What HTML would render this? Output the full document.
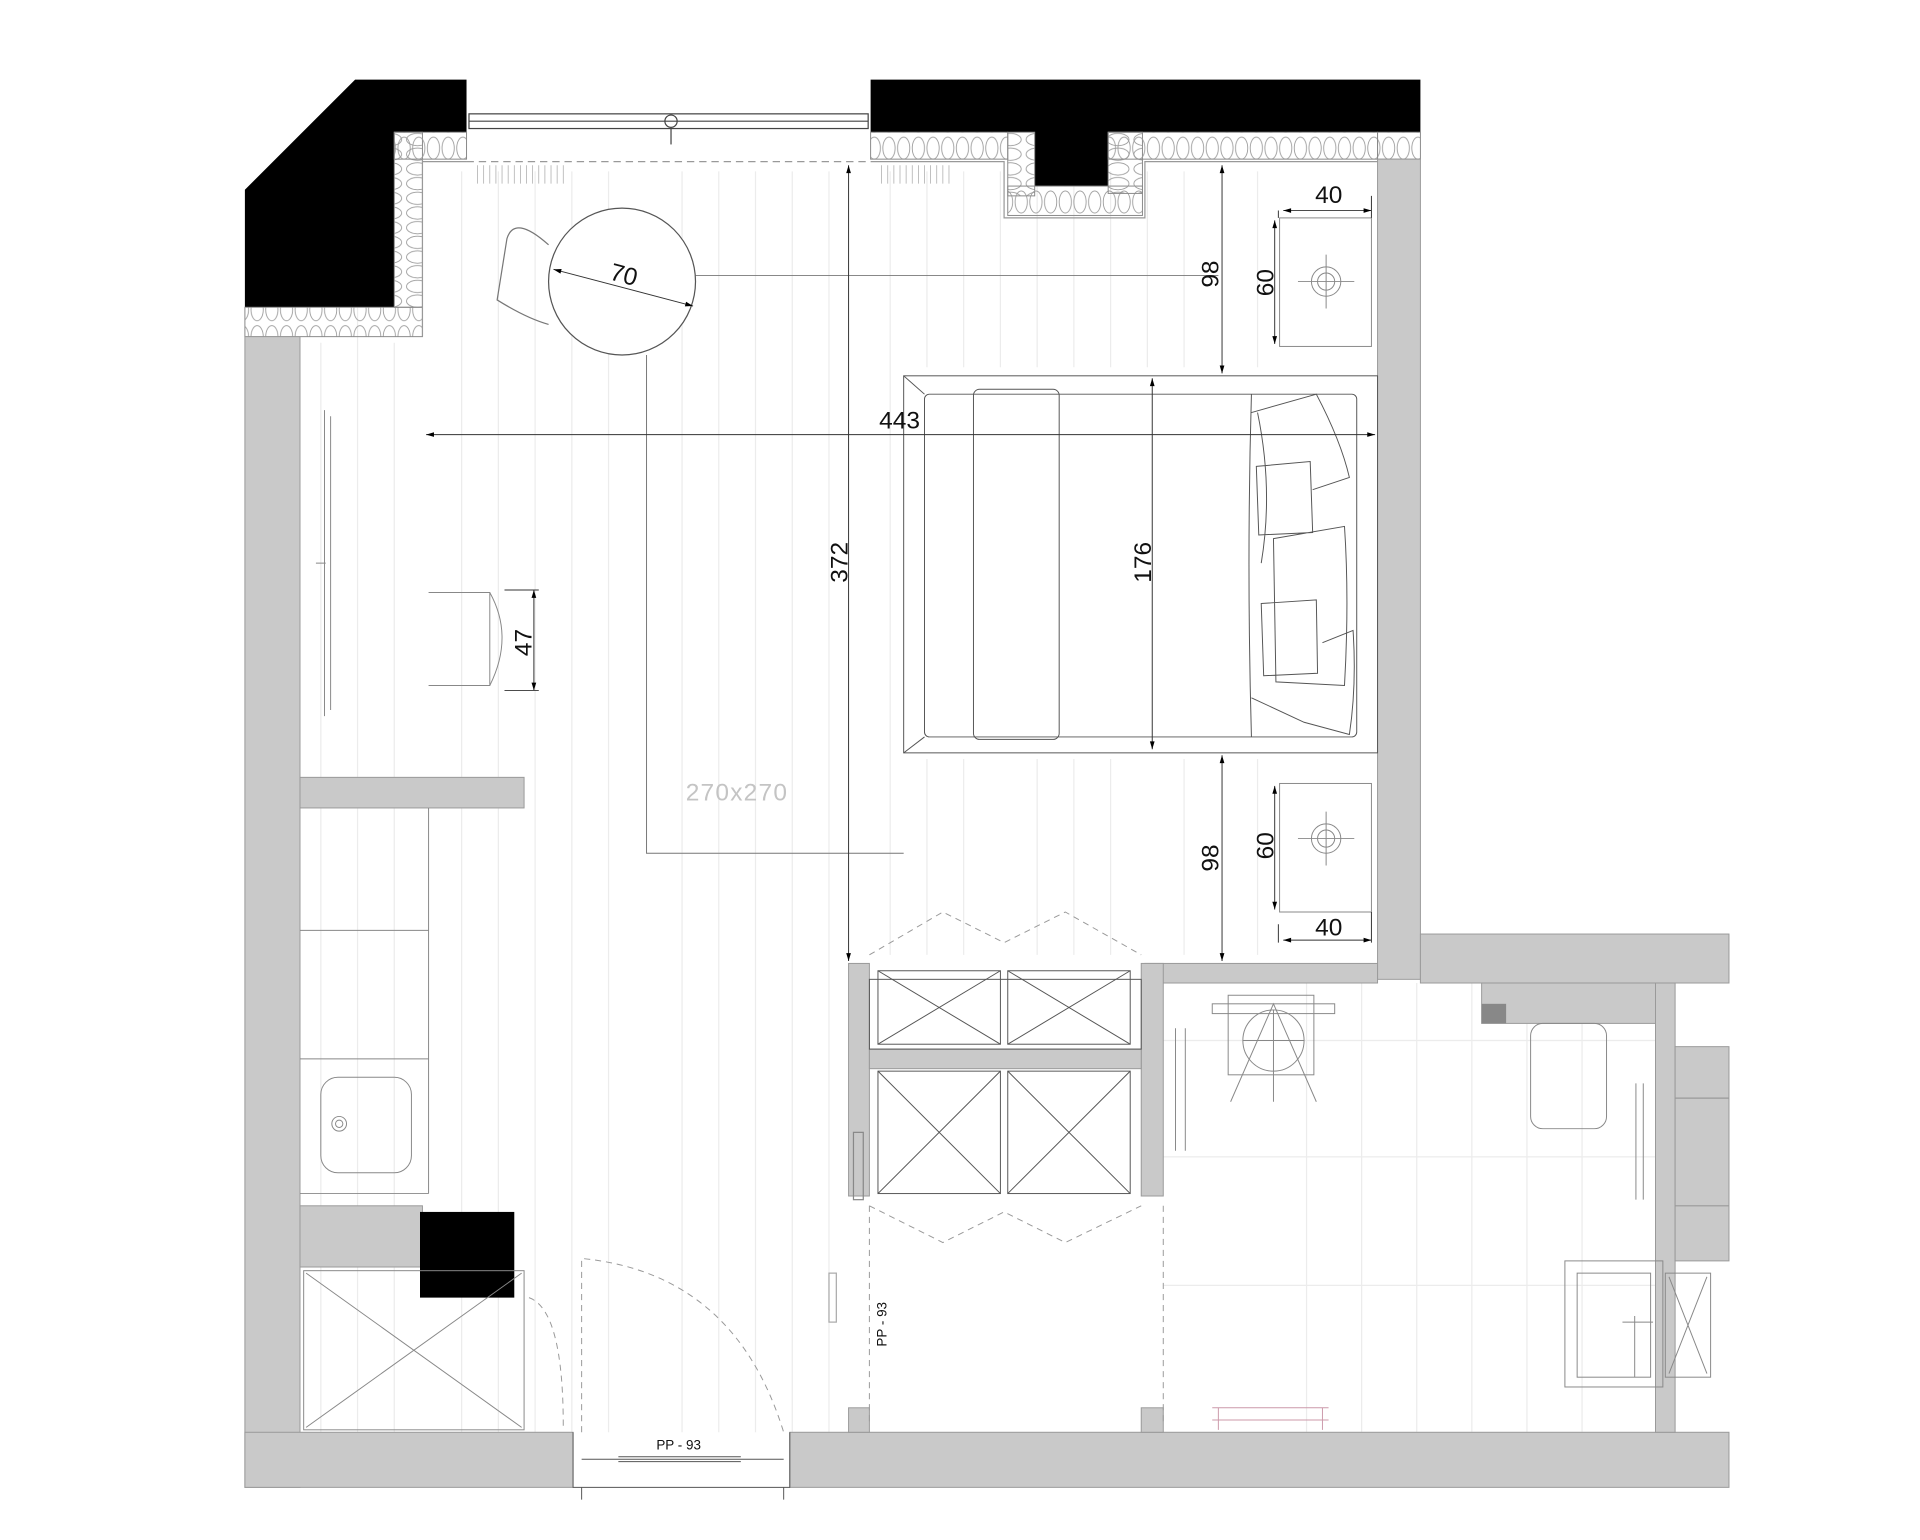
<!DOCTYPE html>
<html><head><meta charset="utf-8"><style>
html,body{margin:0;padding:0;background:#fff}
svg{display:block}
text{font-family:"Liberation Sans",sans-serif;fill:#111}
</style></head><body>
<svg width="1920" height="1540" viewBox="0 0 1568 1258" preserveAspectRatio="none" xmlns="http://www.w3.org/2000/svg">
<defs>
<pattern id="ins" width="12" height="22" patternUnits="userSpaceOnUse">
<ellipse cx="6" cy="11" rx="5" ry="9" fill="none" stroke="#999" stroke-width="0.7"/>
</pattern>
<pattern id="insv" width="22" height="12" patternUnits="userSpaceOnUse">
<ellipse cx="11" cy="6" rx="9" ry="5" fill="none" stroke="#999" stroke-width="0.7"/>
</pattern>
<marker id="ar" viewBox="0 0 10 10" refX="10" refY="5" markerWidth="10" markerHeight="8" orient="auto-start-reverse"><path d="M0,2 L10,5 L0,8z" fill="#000"/></marker>
</defs>
<rect width="1568" height="1258" fill="#fff"/>
<!-- floor lines -->
<g stroke="#ececec" stroke-width="1">
<path d="M262 280V1170M292 140V1170M322 280V1170M377 140V1170M407 140V1170M437 140V1170M467 140V1170M497 140V1170M557 140V1170M587 140V1170M617 140V1170M647 140V1170M677 140V1170M727 140V780M757 140V300M787 140V300M817 140V300M847 140V300M877 140V300M907 140V300M937 140V300M967 140V300M1027 140V300M757 620V780M787 620V780M847 620V780M877 620V780M907 620V780M967 620V780M1027 620V780M1067 803V1170M1112 803V1170M1157 803V1170M1202 803V1170M1247 803V1170M1292 803V1170"/>
<path d="M950 850H1352M950 945H1352M950 1050H1352"/>
</g>
<!-- black walls -->
<path d="M200 155L290 65H381V108H322V251H200Z" fill="#000"/>
<path d="M711 65H1160V108H905V152H845V108H711Z" fill="#000"/>
<!-- window -->
<g stroke="#444" fill="none" stroke-width="1"><rect x="383" y="93" width="326" height="12"/><path d="M383 99H709"/><circle cx="548" cy="99" r="5"/><path d="M548 104V118"/></g>
<!-- insulation -->
<g stroke="#888" stroke-width="0.8">
<rect x="200" y="251" width="145" height="24" fill="url(#ins)"/>
<rect x="322" y="108" width="23" height="143" fill="url(#insv)"/>
<rect x="322" y="108" width="59" height="22" fill="url(#ins)"/>
<rect x="711" y="108" width="112" height="22" fill="url(#ins)"/>
<rect x="823" y="108" width="22" height="52" fill="url(#insv)"/>
<rect x="823" y="152" width="110" height="24" fill="url(#ins)"/>
<rect x="905" y="108" width="28" height="50" fill="url(#insv)"/>
<rect x="905" y="108" width="220" height="22" fill="url(#ins)"/>
<rect x="1125" y="108" width="35" height="22" fill="url(#ins)"/>
</g>
<path d="M345 130V275M345 132H381M711 132H820V178H935V132H1125" stroke="#999" fill="none"/>
<path d="M381 132H711" stroke="#999" stroke-dasharray="6 4" fill="none"/>
<g stroke="#aaa" stroke-width="0.6"><path d="M390 135v15M395 135v15M400 135v15M405 135v15M410 135v15M415 135v15M420 135v15M425 135v15M430 135v15M435 135v15M440 135v15M445 135v15M450 135v15M455 135v15M460 135v15M720 135v15M725 135v15M730 135v15M735 135v15M740 135v15M745 135v15M750 135v15M755 135v15M760 135v15M765 135v15M770 135v15M775 135v15"/></g>
<!-- gray walls -->
<g fill="#c9c9c9" stroke="#999" stroke-width="0.8">
<rect x="200" y="275" width="45" height="940"/>
<rect x="200" y="1170" width="268" height="45"/>
<rect x="645" y="1170" width="767" height="45"/>
<rect x="1125" y="130" width="35" height="670"/>
<rect x="1160" y="763" width="252" height="40"/>
<rect x="935" y="787" width="190" height="16"/>
<rect x="1352" y="803" width="16" height="367"/>
<rect x="1368" y="855" width="44" height="175"/>
<rect x="245" y="635" width="183" height="25"/>
<rect x="693" y="787" width="17" height="190"/>
<rect x="932" y="787" width="18" height="190"/>
<rect x="710" y="857" width="222" height="16"/>
<rect x="245" y="985" width="100" height="50"/>
<rect x="693" y="1150" width="17" height="20"/>
<rect x="932" y="1150" width="18" height="20"/>
<rect x="1210" y="803" width="142" height="33"/>
</g>
<rect x="1210" y="820" width="20" height="16" fill="#888"/>
<path d="M1368 897H1412M1368 985H1412" stroke="#999"/>
<rect x="343" y="990" width="77" height="70" fill="#000"/>
<!-- closet -->
<g stroke="#555" fill="none" stroke-width="0.8">
<rect x="710" y="800" width="222" height="57"/>
<rect x="717" y="793" width="100" height="60"/><path d="M717 793L817 853M817 793L717 853"/>
<rect x="823" y="793" width="100" height="60"/><path d="M823 793L923 853M923 793L823 853"/>
<rect x="717" y="875" width="100" height="100"/><path d="M717 875L817 975M817 875L717 975"/>
<rect x="823" y="875" width="100" height="100"/><path d="M823 875L923 975M923 875L823 975"/>
</g>
<g stroke="#999" fill="none" stroke-dasharray="5 4" stroke-width="0.8">
<path d="M710 780L770 745L820 770L870 745L932 780M710 985L770 1015L820 990L870 1015L932 985"/>
<path d="M710 985V1165M950 985V1165"/>
<path d="M475 1170V1028Q600 1040 640 1170M432 1060Q460 1070 460 1165"/>
</g>
<rect x="697" y="925" width="8" height="55" fill="none" stroke="#888"/>
<rect x="677" y="1040" width="6" height="40" fill="none" stroke="#aaa"/>
<!-- left wall items -->
<g stroke="#888" fill="none" stroke-width="0.8">
<path d="M265 335V585M270 340V580M258 460H266"/>
<path d="M245 760H350M245 865H350M245 975H350M350 660V975"/>
<rect x="262" y="880" width="74" height="78" rx="14"/>
<circle cx="277" cy="918" r="6"/><circle cx="277" cy="918" r="3"/>
<rect x="248" y="1038" width="180" height="130"/>
<path d="M250 1040L426 1166M426 1040L250 1166"/>
<path d="M350 484H400V560H350M400 484Q420 520 400 560"/>
</g>
<!-- round table -->
<circle cx="508" cy="230" r="60" fill="#fff" stroke="#555"/>
<path d="M448 200Q420 175 414 195L406 245Q430 260 448 265" fill="none" stroke="#777"/>
<!-- rug -->
<path d="M528 290V697H738M568 225H995" stroke="#777" fill="none" stroke-width="0.8"/>
<text x="560" y="654" font-size="20" fill="#c4c4c4" style="fill:#c4c4c4;letter-spacing:1px">270x270</text>
<!-- bed -->
<g stroke="#555" fill="none" stroke-width="0.8">
<rect x="738" y="307" width="387" height="308"/>
<rect x="755" y="322" width="353" height="280" rx="4"/>
<path d="M738 307L755 322M738 615L755 602"/>
<rect x="795" y="318" width="70" height="286" rx="5"/>
<path d="M1022 322Q1018 460 1022 602"/>
<path d="M1022 337L1075 322Q1095 360 1102 390L1072 400M1026 381L1070 377L1072 435L1028 437ZM1040 440L1098 430Q1102 490 1098 560L1042 557ZM1030 493L1075 490L1076 550L1032 552ZM1022 570L1065 590L1102 600Q1108 560 1105 515L1080 525M1027 337Q1040 400 1030 460"/>
</g>
<!-- nightstands -->
<g stroke="#888" fill="none" stroke-width="0.8">
<rect x="1045" y="178" width="75" height="105"/><circle cx="1083" cy="230" r="12"/><circle cx="1083" cy="230" r="7"/><path d="M1060 230H1106M1083 208V252"/>
<rect x="1045" y="640" width="75" height="105"/><circle cx="1083" cy="685" r="12"/><circle cx="1083" cy="685" r="7"/><path d="M1060 685H1106M1083 663V707"/>
</g>
<!-- bathroom fixtures -->
<g stroke="#888" fill="none" stroke-width="0.8">
<rect x="990" y="820" width="100" height="8"/>
<rect x="1003" y="813" width="70" height="65"/>
<circle cx="1040" cy="850" r="25"/><path d="M1040 825V900M1015 850H1065M1005 900L1040 820L1075 900"/>
<path d="M960 840V940M968 840V940"/>
<rect x="1250" y="836" width="62" height="86" rx="10"/>
<path d="M1336 885V980M1342 885V980"/>
<rect x="1278" y="1030" width="80" height="103"/>
<rect x="1288" y="1040" width="60" height="85"/>
<path d="M1325 1080H1350M1335 1075V1125"/>
<rect x="1360" y="1040" width="37" height="85"/><path d="M1363 1043L1394 1122M1394 1043L1363 1122"/>
<path d="M990 1150H1085M990 1160H1085M995 1150V1168M1080 1150V1168" stroke="#c9a"/>
</g>
<!-- entry door -->
<g stroke="#555" fill="none" stroke-width="0.8"><path d="M468 1170V1215H645V1170M475 1192H640M505 1190H605M505 1194H605M475 1215V1225M640 1215V1225"/></g>
<!-- dimensions -->
<g stroke="#333" stroke-width="0.8" fill="none">
<path d="M348 355H1123" marker-start="url(#ar)" marker-end="url(#ar)"/>
<path d="M693 135V785" marker-start="url(#ar)" marker-end="url(#ar)"/>
<path d="M941 309V612" marker-start="url(#ar)" marker-end="url(#ar)"/>
<path d="M998 135V305" marker-start="url(#ar)" marker-end="url(#ar)"/>
<path d="M998 617V785" marker-start="url(#ar)" marker-end="url(#ar)"/>
<path d="M1041 180V281" marker-start="url(#ar)" marker-end="url(#ar)"/>
<path d="M1041 642V743" marker-start="url(#ar)" marker-end="url(#ar)"/>
<path d="M1048 172H1120" marker-start="url(#ar)" marker-end="url(#ar)"/>
<path d="M1048 768H1120" marker-start="url(#ar)" marker-end="url(#ar)"/>
<path d="M436 482V564" marker-start="url(#ar)" marker-end="url(#ar)"/>
<path d="M452 220L566 250" marker-start="url(#ar)" marker-end="url(#ar)"/>
<path d="M412 482H440M412 564H440M1044 172V178M1120 160V178M1044 755V770M1120 745V770"/>
</g>
<g font-size="20">
<text x="718" y="350">443</text>
<text transform="translate(692,476) rotate(-90)">372</text>
<text transform="translate(940,476) rotate(-90)">176</text>
<text transform="translate(995,235) rotate(-90)">98</text>
<text transform="translate(995,712) rotate(-90)">98</text>
<text transform="translate(1040,242) rotate(-90)">60</text>
<text transform="translate(1040,702) rotate(-90)">60</text>
<text x="1074" y="166">40</text>
<text x="1074" y="764">40</text>
<text transform="translate(434,536) rotate(-90)">47</text>
<text transform="translate(497,228) rotate(15)">70</text>
</g>
<text x="536" y="1184" font-size="11">PP - 93</text>
<text transform="translate(724,1100) rotate(-90)" font-size="11">PP - 93</text>
</svg>
</body></html>
